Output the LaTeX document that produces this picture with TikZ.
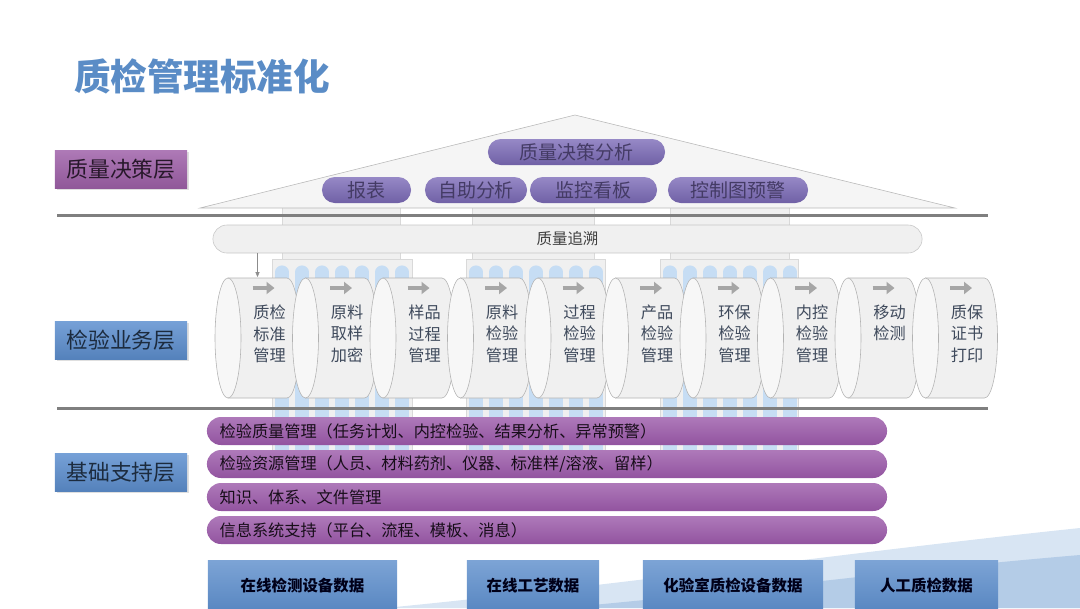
\documentclass[tikz,border=0pt]{standalone}
\usepackage{fontspec}
\setmainfont{Noto Sans CJK SC}
\usetikzlibrary{arrows.meta, calc, shadows}

\definecolor{titleblue}{HTML}{5A8CC6}
\definecolor{labelpurple}{HTML}{A062AA}
\definecolor{labelblue}{HTML}{5E90D0}
\definecolor{roofpurple}{HTML}{7C6BB8}
\definecolor{barpurple}{HTML}{9A58A8}
\definecolor{datablue}{HTML}{5C8DCB}
\definecolor{linegray}{HTML}{7F7F7F}
\definecolor{pillarblue}{HTML}{C6DDF4}
\definecolor{swooshlight}{HTML}{D8E5F3}
\definecolor{swooshdark}{HTML}{B4CCE7}
\definecolor{moduletext}{HTML}{3F4A5C}

\begin{document}
\begin{tikzpicture}[x=0.025cm, y=-0.025cm,
    title/.style={font=\fontsize{26}{30}\selectfont\bfseries, text=titleblue},
    layer/.style={minimum width=3.3cm, minimum height=0.95cm, inner sep=0pt, font=\fontsize{15.5}{18}\selectfont,
        drop shadow={shadow xshift=0.04cm, shadow yshift=-0.04cm, opacity=0.25}},
    purplebox/.style={top color=labelpurple!85!white, bottom color=labelpurple!90!black, text=black!75!labelpurple},
    bluebox/.style={top color=labelblue!85!white, bottom color=labelblue!90!black, text=black!70!labelblue},
    pill/.style={rounded corners=0.32cm, minimum height=0.65cm, inner sep=0pt, font=\fontsize{13.5}{16}\selectfont,
        top color=roofpurple!80!white, bottom color=roofpurple!90!black, text=black!45!roofpurple},
    cylbody/.style={fill=black!6, draw=black!30},
    cylend/.style={fill=black!3, draw=black!30},
    cyltext/.style={align=center, font=\fontsize{11.5}{15}\selectfont, text=moduletext, inner sep=0pt},
    cylarr/.style={-{Triangle[length=0.2cm, width=0.3cm]}, line width=0.12cm, black!35},
    module/.pic={
        \draw[cylbody] (-29.5,-60) -- (29.5,-60) arc[start angle=-90, end angle=90, x radius=13, y radius=60] -- (-29.5,60) -- cycle;
        \draw[cylend] (-29.5,0) ellipse[x radius=13, y radius=60];
        \draw[cylarr] (-5,-50) -- (17,-50);
        \node[cyltext, anchor=north] (-text) at (12,-33) {#1};
    },
    tracearr/.style={-{Triangle[length=0.12cm, width=0.1cm]}, thin, black!45},
    bar/.style={rounded corners=0.35cm, minimum width=17cm, minimum height=0.7cm, inner xsep=0.32cm, inner ysep=0pt,
        text width=16.36cm, align=left, font=\fontsize{11.5}{14}\selectfont,
        top color=barpurple!80!white, bottom color=barpurple!95!black, text=black!85!barpurple},
    databox/.style={minimum height=1.3cm, inner sep=0pt, font=\fontsize{11}{13}\selectfont\bfseries,
        top color=datablue!80!white, bottom color=datablue!95!black, text=black!90!blue},
    pillar/.style={fill=black!6, draw=black!15},
    bluecol/.style={line width=0.33cm, line cap=round, pillarblue},
    divider/.style={line width=0.075cm, linegray},
]
\useasboundingbox (0,0) rectangle (1080,608);
\clip (0,0) rectangle (1080,608);
% Background swoosh
\fill[swooshlight] (385,608) .. controls (620,585) and (850,552) .. (1080,528) -- (1080,608) -- cycle;
\fill[swooshdark] (560,608) .. controls (760,590) and (900,570) .. (1080,555) -- (1080,608) -- cycle;
% Pillars behind the layers
\draw[pillar] (282,206) rectangle (400,260);
\draw[pillar] (472,206) rectangle (594,260);
\draw[pillar] (670,206) rectangle (789,260);
\draw[pillar] (272,259) rectangle (412,455);
\draw[pillar] (466,259) rectangle (605,455);
\draw[pillar] (660,259) rectangle (798,455);
\foreach \x in {282,302,...,402, 476,496,...,596, 670,690,...,790}
    \draw[bluecol] (\x,272) -- (\x,452);
% Roof
\draw[fill=black!4, draw=black!28] (200,208) -- (575,115) -- (955,208) -- cycle;
\node[pill, minimum width=4.425cm] (analysis) at (576.5,152) {质量决策分析};
\node[pill, minimum width=2.225cm] (report) at (366.5,190) {报表};
\node[pill, minimum width=2.55cm] (selfsvc) at (476,190) {自助分析};
\node[pill, minimum width=3.175cm] (monitor) at (593.5,190) {监控看板};
\node[pill, minimum width=3.5cm] (ctrlchart) at (738,190) {控制图预警};
\draw[divider] (57,215) -- (988,215);
% Quality traceability bar
\node[rounded corners=0.35cm, minimum width=17.725cm, minimum height=0.7cm, fill=black!6, draw=black!22,
    font=\fontsize{11}{13}\selectfont, text=black!75] (trace) at (567.5,239) {质量追溯};
% Inspection modules (cylinders)
\pic (m1) at (257.5,338) {module={质检\\标准\\管理}};
\pic (m2) at (335,338) {module={原料\\取样\\加密}};
\pic (m3) at (412.5,338) {module={样品\\过程\\管理}};
\pic (m4) at (490,338) {module={原料\\检验\\管理}};
\pic (m5) at (567.5,338) {module={过程\\检验\\管理}};
\pic (m6) at (645,338) {module={产品\\检验\\管理}};
\pic (m7) at (722.5,338) {module={环保\\检验\\管理}};
\pic (m8) at (800,338) {module={内控\\检验\\管理}};
\pic (m9) at (877.5,338) {module={移动\\检测}};
\pic (m10) at (955,338) {module={质保\\证书\\打印}};
\coordinate (m1top) at (257.5,277);
\draw[tracearr] (trace.south -| m1top) -- (m1top);
\draw[divider] (57,408) -- (988,408);
% Support layer bars
\node[bar] (qualmgmt) at (547,431) {检验质量管理（任务计划、内控检验、结果分析、异常预警）};
\node[bar] (resmgmt) at (547,464) {检验资源管理（人员、材料药剂、仪器、标准样/溶液、留样）};
\node[bar] (docmgmt) at (547,497) {知识、体系、文件管理};
\node[bar] (infosys) at (547,530) {信息系统支持（平台、流程、模板、消息）};
% Data sources
\node[databox, minimum width=4.725cm] (online) at (302.5,586) {在线检测设备数据};
\node[databox, minimum width=3.3cm] (process) at (533,586) {在线工艺数据};
\node[databox, minimum width=4.5cm] (labdata) at (733,586) {化验室质检设备数据};
\node[databox, minimum width=3.575cm] (manual) at (926.5,586) {人工质检数据};
% Layer labels and title
\node[layer, purplebox] (decision) at (121,169) {质量决策层};
\node[layer, bluebox] (business) at (121,340) {检验业务层};
\node[layer, bluebox] (support) at (121,472) {基础支持层};
\node[title] (heading) at (202,76) {质检管理标准化};
\end{tikzpicture}
\end{document}
